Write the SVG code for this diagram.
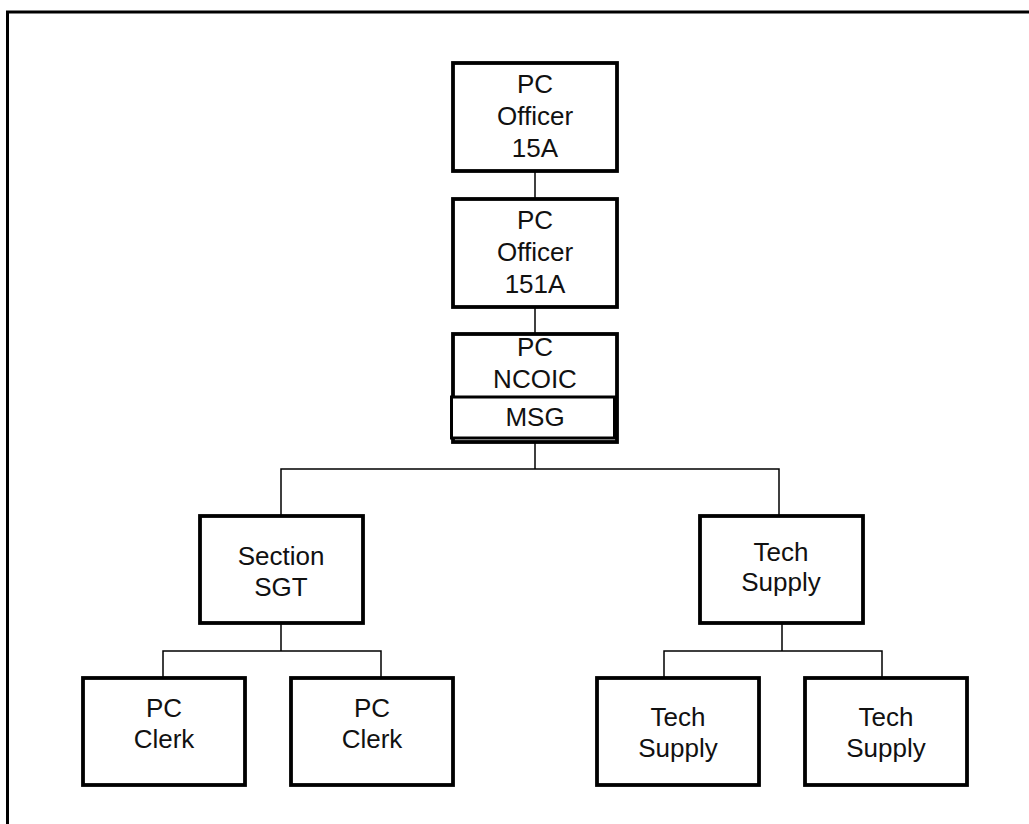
<svg xmlns="http://www.w3.org/2000/svg" width="1029" height="824" viewBox="0 0 1029 824">
<style>
.frame{fill:none;stroke:#000;stroke-width:3}
.box{fill:#fff;stroke:#000;stroke-width:3.8}
.sub{fill:#fff;stroke:#000;stroke-width:3}
.con{fill:none;stroke:#000;stroke-width:1.5}
text{font-family:"Liberation Sans",Arial,sans-serif;font-size:26px;fill:#111;text-anchor:middle}
</style>
<rect width="1029" height="824" fill="#fff"/>
<rect class="frame" x="7.5" y="12" width="1040" height="830"/>
<g id="connectors">
<line class="con" x1="535" y1="171" x2="535" y2="198"/>
<line class="con" x1="535" y1="307" x2="535" y2="333"/>
<path class="con" d="M535 443V469M281 515V469H779V515"/>
<path class="con" d="M281 623V651M163 677V651H381V677"/>
<path class="con" d="M782 623V651M664 677V651H882V677"/>
</g>
<g id="n1">
<rect class="box" x="453" y="63" width="164" height="108"/>
<text x="535" y="93">PC</text><text x="535" y="125">Officer</text><text x="535" y="157">15A</text>
</g>
<g id="n2">
<rect class="box" x="453" y="199" width="164" height="108"/>
<text x="535" y="229">PC</text><text x="535" y="261">Officer</text><text x="535" y="293">151A</text>
</g>
<g id="n3">
<rect class="box" x="453" y="334" width="164" height="108"/>
<text x="535" y="356">PC</text><text x="535" y="388">NCOIC</text>
<rect class="sub" x="451.5" y="397" width="163" height="41"/>
<text x="535" y="426">MSG</text>
</g>
<g id="n4">
<rect class="box" x="200" y="516" width="163" height="107"/>
<text x="281" y="565">Section</text><text x="281" y="596">SGT</text>
</g>
<g id="n5">
<rect class="box" x="700" y="516" width="163" height="107"/>
<text x="781" y="561">Tech</text><text x="781" y="591">Supply</text>
</g>
<g id="n6">
<rect class="box" x="83" y="678" width="162" height="107"/>
<text x="164" y="717">PC</text><text x="164" y="748">Clerk</text>
</g>
<g id="n7">
<rect class="box" x="291" y="678" width="162" height="107"/>
<text x="372" y="717">PC</text><text x="372" y="748">Clerk</text>
</g>
<g id="n8">
<rect class="box" x="597" y="678" width="162" height="107"/>
<text x="678" y="726">Tech</text><text x="678" y="757">Supply</text>
</g>
<g id="n9">
<rect class="box" x="805" y="678" width="162" height="107"/>
<text x="886" y="726">Tech</text><text x="886" y="757">Supply</text>
</g>
</svg>
